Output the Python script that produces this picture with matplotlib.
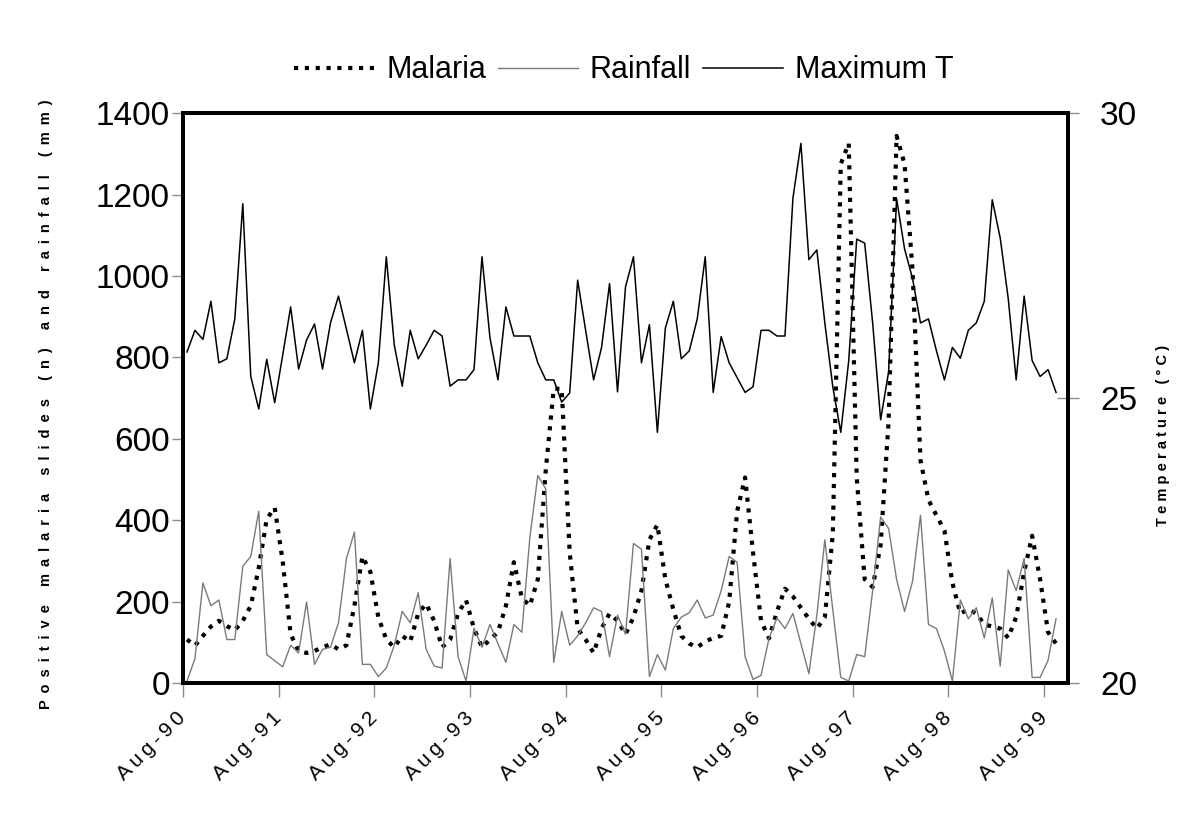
import numpy as np
import matplotlib
matplotlib.use("Agg")
import matplotlib.pyplot as plt

plt.rcParams['font.family'] = ['Liberation Sans', 'DejaVu Sans']

# monthly values, Aug-90 .. Sep-99
malaria = [107, 92, 116, 139, 153, 140, 130, 153, 190, 283, 403, 431, 300, 120, 79, 74, 79, 88,
           95, 83, 93, 190, 311, 273, 162, 107, 88, 116, 102, 171, 195, 153, 88, 107, 171, 204,
           134, 88, 107, 125, 190, 297, 209, 190, 255, 524, 723, 723, 320, 134, 107, 74, 134, 171,
           153, 120, 162, 227, 352, 389, 255, 181, 116, 97, 88, 102, 111, 116, 199, 422, 505, 320,
           153, 110, 176, 232, 213, 185, 158, 134, 162, 366, 1275, 1326, 505, 255, 236, 339, 644, 1344,
           1275, 1015, 547, 450, 412, 375, 246, 171, 181, 171, 144, 139, 134, 111, 162, 273, 362, 255,
           125, 97]
rainfall = [5, 60, 246, 190, 204, 107, 107, 287, 311, 422, 70, 55, 40, 93, 74, 199, 46, 83,
            88, 148, 306, 371, 46, 46, 16, 37, 93, 176, 148, 222, 83, 42, 37, 306, 65, 5,
            135, 88, 144, 97, 51, 144, 125, 357, 510, 477, 51, 176, 93, 116, 148, 185, 176, 65,
            167, 120, 343, 329, 16, 70, 32, 134, 162, 173, 204, 160, 167, 227, 311, 297, 65, 9,
            19, 110, 160, 134, 171, 97, 23, 167, 352, 180, 14, 5, 70, 65, 227, 408, 380, 255,
            176, 250, 412, 144, 134, 79, 5, 204, 158, 185, 111, 209, 42, 278, 227, 306, 14, 14,
            56, 158]
max_temp = [25.81, 26.19, 26.03, 26.70, 25.62, 25.69, 26.39, 28.41, 25.38, 24.81, 25.68, 24.92,
            25.75, 26.60, 25.51, 26.02, 26.30, 25.51, 26.32, 26.79, 26.21, 25.62, 26.19, 24.81,
            25.62, 27.48, 25.93, 25.21, 26.19, 25.69, 25.93, 26.19, 26.09, 25.21, 25.32, 25.32,
            25.50, 27.48, 26.06, 25.32, 26.60, 26.09, 26.09, 26.09, 25.62, 25.32, 25.32, 24.93,
            25.09, 27.07, 26.19, 25.32, 25.89, 27.01, 25.11, 26.95, 27.48, 25.62, 26.29, 24.40,
            26.23, 26.70, 25.69, 25.83, 26.39, 27.48, 25.10, 26.08, 25.62, 25.36, 25.10, 25.20,
            26.19, 26.19, 26.09, 26.09, 28.51, 29.47, 27.43, 27.60, 26.32, 25.20, 24.40, 25.66,
            27.79, 27.72, 26.32, 24.62, 25.46, 28.50, 27.62, 27.10, 26.32, 26.39, 25.83, 25.32,
            25.89, 25.70, 26.19, 26.32, 26.70, 28.48, 27.81, 26.75, 25.32, 26.79, 25.66, 25.38,
            25.50, 25.10]
year_labels = ['Aug-90', 'Aug-91', 'Aug-92', 'Aug-93', 'Aug-94', 'Aug-95', 'Aug-96',
               'Aug-97', 'Aug-98', 'Aug-99']


def spaced(s, sep=' '):
    return sep.join(s)


x = np.arange(len(malaria)) + 0.5

fig = plt.figure(figsize=(12, 8.26), dpi=100)
ax = fig.add_axes([0.1525, 0.173, 0.7375, 0.69])
ax2 = ax.twinx()

l_mal, = ax.plot(x, malaria, color='black', lw=3, linestyle=(0, (1, 1.6)), label='Malaria')
l_rain, = ax.plot(x, rainfall, color='#7a7a7a', lw=1, label='Rainfall')
l_temp, = ax2.plot(x, max_temp, color='black', lw=1.1, label='Maximum T')

ax.set_xlim(0, 111)
ax.set_ylim(0, 1400)
ax.set_yticks(range(0, 1401, 200))
ax2.set_ylim(20, 30)
ax2.set_yticks([20, 25, 30])

ax.set_xticks(np.arange(0, 109, 12))
ax.set_xticklabels([spaced(s, '\u2009') for s in year_labels], rotation=45, ha='right',
                   va='center', rotation_mode='anchor', fontsize=15)

ax.tick_params(axis='y', labelsize=24, color='#8c8c8c', length=8, width=1, pad=1.5)
ax.tick_params(axis='x', color='#8c8c8c', length=10, width=1, pad=13)
ax2.tick_params(axis='y', labelsize=24, color='#8c8c8c', length=16, width=1,
                direction='inout', pad=15)

for a in (ax, ax2):
    for sp in a.spines.values():
        sp.set_linewidth(2.8)
        sp.set_color('black')

ax.set_ylabel(spaced('Positive malaria slides (n) and rainfall (mm)', ' \u2009'),
              fontsize=10.5, fontweight='bold')
ax.yaxis.set_label_coords(-0.147, 0.49)
ax2.set_ylabel(spaced('Temperature (°C)'), fontsize=10.5, fontweight='bold')
ax2.yaxis.set_label_coords(1.100, 0.435)

fig.legend(handles=[l_mal, l_rain, l_temp], loc='center', bbox_to_anchor=(0.52, 0.915),
           ncol=3, frameon=False, handlelength=2.6, handletextpad=0.4, columnspacing=0.4,
           prop={'size': 22})

fig.savefig('out.png', dpi=100)
